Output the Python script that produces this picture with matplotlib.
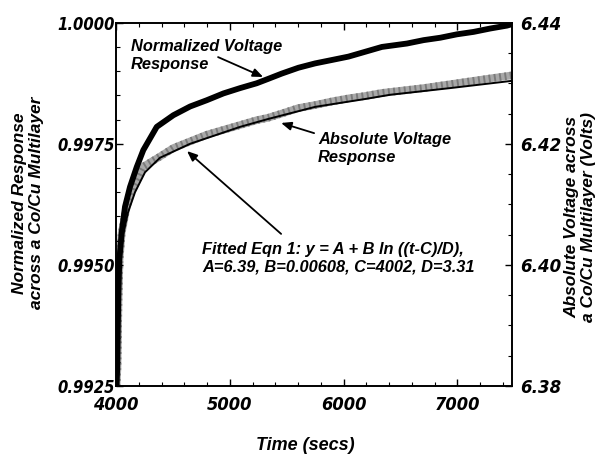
import matplotlib
matplotlib.use("Agg")
import matplotlib.pyplot as plt
from matplotlib import font_manager
from matplotlib.font_manager import FontProperties
from matplotlib.textpath import TextPath
from matplotlib.ticker import MultipleLocator

# ---------------- data ----------------
norm_time = [4005, 4011, 4020, 4029, 4050, 4079, 4123, 4182, 4240, 4358, 4504,
             4651, 4798, 4944, 5091, 5237, 5337, 5457, 5603, 5750, 5897, 6043,
             6190, 6337, 6557, 6703, 6850, 6996, 7142, 7289, 7436, 7480]
norm_resp = [0.9925, 0.99289, 0.99428, 0.99510, 0.99566, 0.99620, 0.99661,
             0.99702, 0.99737, 0.99785, 0.99809, 0.99827, 0.99840, 0.99854,
             0.99865, 0.99875, 0.99884, 0.99895, 0.99907, 0.99916, 0.99923,
             0.99930, 0.99940, 0.99950, 0.99957, 0.99964, 0.99969, 0.99976,
             0.99981, 0.99988, 0.99994, 0.99997]

abs_time = [4005, 4013, 4022, 4031, 4050, 4094, 4150, 4237, 4387, 4504, 4651,
            4798, 4944, 5091, 5237, 5337, 5457, 5603, 5750, 5897, 6043, 6190,
            6337, 6703, 6996, 7289, 7480]
abs_volt = [6.380, 6.3831, 6.3942, 6.4008, 6.4053, 6.4096, 6.4129, 6.4162,
            6.4179, 6.4193, 6.4204, 6.4215, 6.4223, 6.4231, 6.4239, 6.4243,
            6.4250, 6.4259, 6.4264, 6.4270, 6.4275, 6.4279, 6.4284, 6.4292,
            6.4300, 6.4308, 6.4313]

fit_time = [4005, 4013, 4022, 4035, 4062, 4106, 4167, 4255, 4387, 4651, 5091,
            5337, 5750, 6190, 6410, 6937, 7480]
fit_volt = [6.3795, 6.381, 6.3925, 6.400, 6.405, 6.4087, 6.412, 6.4153,
            6.4177, 6.4200, 6.4228, 6.4241, 6.4261, 6.4274, 6.4281, 6.4292,
            6.4304]

left_ticks = [0.9925, 0.9950, 0.9975, 1.0000]
left_labels = ["0.9925", "0.9950", "0.9975", "1.0000"]
right_ticks = [6.38, 6.40, 6.42, 6.44]
right_labels = ["6.38", "6.40", "6.42", "6.44"]
x_ticks = [4000, 5000, 6000, 7000]
x_labels = ["4000", "5000", "6000", "7000"]

# ---------------- fonts ----------------
MAIN = "Liberation Sans"
plt.rcParams["font.family"] = [MAIN, "DejaVu Sans"]


def pick_condensed_italic():
    best, best_score = None, -1
    for f in font_manager.fontManager.ttflist:
        narrow = ("Narrow" in f.name or "Condensed" in f.name or "Narrow" in f.fname
                  or "Condensed" in f.fname)
        if not narrow or f.style not in ("italic", "oblique"):
            continue
        score = 1
        w = f.weight if isinstance(f.weight, int) else (700 if "bold" in str(f.weight) else 400)
        if w >= 600:
            score += 2
        if "Sans" in f.name:
            score += 1
        if score > best_score:
            best, best_score = f, score
    return best


cf = pick_condensed_italic()
if cf is not None:
    TICKFP = FontProperties(fname=cf.fname)
else:
    TICKFP = FontProperties(family=MAIN, weight="bold", style="italic")


def fit_size(text, target_w_px, target_h_px):
    ext = TextPath((0, 0), text, prop=TICKFP, size=10).get_extents()
    w10 = ext.width * 100 / 72.0
    s_w = 10 * target_w_px / w10
    h10 = TextPath((0, 0), "0", prop=TICKFP, size=10).get_extents().height * 100 / 72.0
    s_h = 10 * target_h_px / h10
    return min(s_w * 1.06, s_h)


size_left = fit_size("0.9975", 53, 15)
size_right = fit_size("6.44", 37, 17)
size_x = fit_size("5000", 42, 19)

W, H = 601, 454
fig = plt.figure(figsize=(W / 100, H / 100), dpi=100)
L, R, T, B = 116, 512, 22.7, 386
ax = fig.add_axes([L / W, 1 - B / H, (R - L) / W, (B - T) / H])
ax2 = ax.twinx()

# gray absolute voltage band + fit line on right axis
ax2.plot(abs_time, abs_volt, color="#a8a8a8", lw=5.5, solid_capstyle="butt", zorder=2)
ax2.plot(abs_time, abs_volt, color="#7a7a7a", lw=5.5, ls=(0, (0.25, 0.45)),
         solid_capstyle="butt", zorder=2)
ax2.plot(fit_time, fit_volt, color="black", lw=1.4, zorder=3)
# black normalized response on left axis
ax.plot(norm_time, norm_resp, color="black", lw=4.2, solid_capstyle="butt", zorder=2)
ax.set_zorder(ax2.get_zorder() + 1)
ax.patch.set_visible(False)

ax.set_xlim(4000, 7480)
ax.set_ylim(0.9925, 1.0000)
ax2.set_ylim(6.38, 6.44)

ax.set_xticks(x_ticks)
ax.set_xticklabels(x_labels)
ax.xaxis.set_minor_locator(MultipleLocator(200))
ax.set_yticks(left_ticks)
ax.set_yticklabels(left_labels)
ax.yaxis.set_minor_locator(MultipleLocator(0.0005))
ax2.set_yticks(right_ticks)
ax2.set_yticklabels(right_labels)
ax2.yaxis.set_minor_locator(MultipleLocator(0.005))
for lab in ax.get_xticklabels():
    lab.set_fontproperties(TICKFP)
    lab.set_fontsize(size_x)
for lab in ax.get_yticklabels():
    lab.set_fontproperties(TICKFP)
    lab.set_fontsize(size_left)
for lab in ax2.get_yticklabels():
    lab.set_fontproperties(TICKFP)
    lab.set_fontsize(size_right)

ax.tick_params(axis="x", which="both", direction="in", top=True, bottom=True, pad=7)
ax.tick_params(axis="x", which="major", length=5, width=1)
ax.tick_params(axis="x", which="minor", length=3, width=0.8)
ax.tick_params(axis="y", which="major", direction="in", length=5, width=1, pad=1)
ax.tick_params(axis="y", which="minor", direction="in", length=3, width=0.8)
ax2.tick_params(axis="y", which="major", direction="in", length=5, width=1, pad=6)
ax2.tick_params(axis="y", which="minor", direction="in", length=3, width=0.8)
ax2.tick_params(axis="x", which="both", top=False, bottom=False, labelbottom=False)

for a in (ax, ax2):
    for s in a.spines.values():
        s.set_linewidth(1.2)

labfont = dict(weight="bold", style="italic")
fig.text(28 / W, 1 - 203 / H, "Normalized Response\nacross a Co/Cu Multilayer",
         rotation=90, ha="center", va="center", fontsize=12.5, linespacing=1.15, **labfont)
fig.text(580 / W, 1 - 217 / H, "Absolute Voltage across\na Co/Cu Multilayer (Volts)",
         rotation=90, ha="center", va="center", fontsize=12.5, linespacing=1.15, **labfont)
fig.text(305 / W, 1 - 446 / H, "Time (secs)", ha="center", va="center",
         fontsize=13, **labfont)

# annotations (left-axis data coordinates)
annfont = dict(fontsize=11.8, weight="bold", style="italic", linespacing=1.25)
ax.text(4132, 0.99932, "Normalized Voltage\nResponse", ha="left", va="center", **annfont)
ax.text(5777, 0.99741, "Absolute Voltage\nResponse", ha="left", va="center", **annfont)
ax.text(4756, 0.99514, "Fitted Eqn 1: y = A + B ln ((t-C)/D),\nA=6.39, B=0.00608, C=4002, D=3.31",
        ha="left", va="center", **annfont)
arrow = dict(arrowstyle="-|>,head_length=0.6,head_width=0.25", color="black", lw=1.3,
             shrinkA=0, shrinkB=0)
ax.annotate("", xy=(5293, 0.99888), xytext=(4897, 0.99929), arrowprops=arrow)
ax.annotate("", xy=(5451, 0.99793), xytext=(5741, 0.99772), arrowprops=arrow)
ax.annotate("", xy=(4624, 0.99735), xytext=(5451, 0.99564), arrowprops=arrow)

fig.savefig("out.png", dpi=100)
